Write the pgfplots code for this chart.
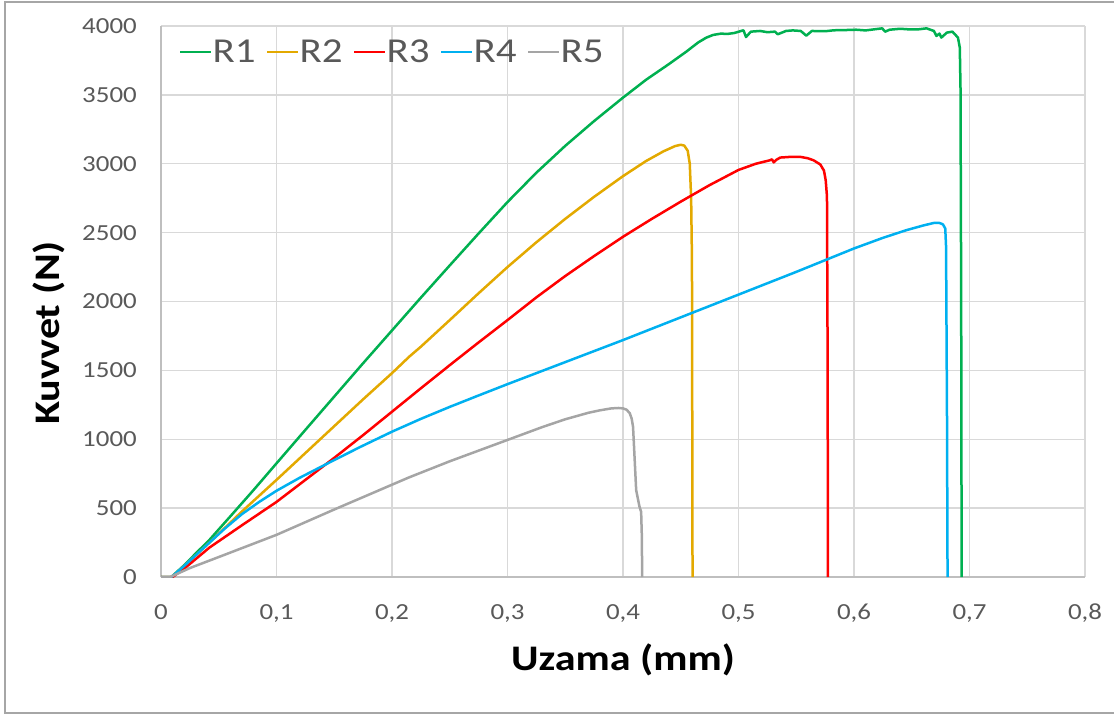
\documentclass[border=0pt]{standalone}
\usepackage{fontspec}
\setmainfont{Carlito}[FakeStretch=1.17]
\usepackage{pgfplots}
\pgfplotsset{compat=1.18}
\definecolor{cRa}{HTML}{00B050}
\definecolor{cRb}{HTML}{E3A900}
\definecolor{cRc}{HTML}{FF0000}
\definecolor{cRd}{HTML}{00B0F0}
\definecolor{cRe}{HTML}{A5A5A5}
\definecolor{gridc}{HTML}{D9D9D9}
\definecolor{axisc}{HTML}{BFBFBF}
\definecolor{txtc}{HTML}{595959}
\definecolor{framec}{HTML}{A6A6A6}
\begin{document}
\begin{tikzpicture}
\useasboundingbox (0,0) rectangle (1114pt,716pt);
\draw[color=framec, line width=1.5pt] (1114pt,3pt) -- (5pt,3pt) -- (5pt,714pt) -- (1114pt,714pt);
\begin{axis}[
  at={(161pt,139pt)}, anchor=south west,
  scale only axis, width=924pt, height=551pt,
  xmin=0, xmax=0.8, ymin=0, ymax=4000,
  xtick={0,0.1,0.2,0.3,0.4,0.5,0.6,0.7,0.8},
  xticklabels={0,{0,1},{0,2},{0,3},{0,4},{0,5},{0,6},{0,7},{0,8}},
  ytick={0,500,1000,1500,2000,2500,3000,3500,4000},
  yticklabels={0,500,1000,1500,2000,2500,3000,3500,4000},
  grid=major,
  major grid style={color=gridc, line width=1.3pt},
  axis lines=left,
  axis line style={-, color=axisc, line width=1.3pt},
  major tick length=0pt,
  tick style={draw=none},
  ticklabel style={font=\fontsize{23}{27}\selectfont, text=txtc, inner sep=0pt},
  xticklabel style={anchor=north, yshift=-27pt},
  yticklabel style={anchor=east, xshift=-24pt},
  xlabel={Uzama (mm)},
  ylabel={Kuvvet (N)},
  xlabel style={font=\bfseries\fontsize{36}{43}\selectfont, at={(rel axis cs:0.5,0)}, anchor=base, yshift=-93pt, inner sep=0pt},
  ylabel style={font=\bfseries\fontsize{36}{43}\selectfont, at={(rel axis cs:0,0.443)}, anchor=center, yshift=112.5pt, inner sep=0pt},
  legend columns=5,
  legend image code/.code={\draw[#1] (0pt,0pt) -- (31pt,0pt);},
  legend style={at={(0.0195,0.9528)}, anchor=west, draw=none, fill=none,
    inner sep=0pt, font=\fontsize{35}{40}\selectfont, text=txtc,
    nodes={inner sep=0pt},
    /tikz/every even column/.append style={column sep=10.5pt}},
  every axis plot/.append style={line width=2.5pt, line join=round},
]
\addplot[cRa] coordinates {
(0,0) (0.009,0) (0.02,85) (0.03,170) (0.042,270) (0.06,440) (0.08,630) (0.1,825)
(0.125,1068) (0.15,1310) (0.175,1552) (0.2,1790) (0.225,2028) (0.25,2262) (0.275,2494)
(0.3,2722) (0.325,2935) (0.35,3130) (0.375,3310) (0.4,3480) (0.42,3610) (0.44,3725)
(0.455,3815) (0.465,3880) (0.472,3915) (0.478,3935) (0.485,3945)
(0.4899,3942) (0.4963,3949) (0.5043,3969) (0.5065,3920) (0.5107,3959)
(0.5187,3964) (0.525,3955) (0.5315,3959) (0.534,3940) (0.5411,3964) (0.547,3968) (0.5539,3964)
(0.5587,3930) (0.5635,3964) (0.575,3962) (0.5827,3969) (0.59,3970) (0.602,3973) (0.61,3968)
(0.6244,3983) (0.627,3959) (0.6308,3973) (0.64,3980) (0.6468,3976) (0.655,3975) (0.6628,3983)
(0.6692,3964) (0.6714,3928) (0.674,3945) (0.6756,3916) (0.6804,3952) (0.6852,3959)
(0.69,3916) (0.6916,3843) (0.6922,3554) (0.6928,2000) (0.6932,0)
};
\addlegendentry{R1}
\addplot[cRb] coordinates {
(0,0) (0.009,0) (0.02,80) (0.042,250) (0.07,475) (0.1,705) (0.125,900) (0.15,1095)
(0.175,1290) (0.2,1480) (0.215,1600) (0.225,1672) (0.25,1865) (0.275,2060) (0.3,2250)
(0.325,2430) (0.35,2600) (0.375,2760) (0.4,2910) (0.42,3020) (0.435,3090) (0.445,3128)
(0.45,3138) (0.453,3132) (0.456,3095) (0.4578,3000) (0.459,2750) (0.4597,2300)
(0.46,1000) (0.4602,0)
};
\addlegendentry{R2}
\addplot[cRc] coordinates {
(0,0) (0.01,0) (0.02,60) (0.042,214) (0.07,375) (0.1,545) (0.125,705) (0.15,865)
(0.175,1030) (0.2,1200) (0.225,1370) (0.25,1538) (0.275,1703) (0.3,1865) (0.325,2030)
(0.35,2185) (0.375,2330) (0.4,2470) (0.425,2600) (0.45,2725) (0.475,2845) (0.5,2955)
(0.515,3000) (0.527,3025) (0.529,3032) (0.5305,3010) (0.533,3030) (0.5362,3045)
(0.545,3050) (0.5535,3050) (0.56,3040) (0.565,3025) (0.5708,2995) (0.574,2950)
(0.5755,2880) (0.5766,2763) (0.5772,1500) (0.5774,0)
};
\addlegendentry{R3}
\addplot[cRd] coordinates {
(0,0) (0.009,0) (0.02,80) (0.042,250) (0.055,350) (0.07,456) (0.085,545) (0.1,626)
(0.12,720) (0.146,832) (0.172,942) (0.2,1055) (0.225,1148) (0.25,1235) (0.275,1318)
(0.3,1400) (0.325,1480) (0.35,1560) (0.375,1640) (0.4,1720) (0.45,1885) (0.5,2050)
(0.55,2215) (0.575,2300) (0.6,2385) (0.625,2462) (0.645,2517) (0.66,2552) (0.669,2570)
(0.674,2570) (0.677,2560) (0.679,2530) (0.6797,2400) (0.6805,1200) (0.681,0)
};
\addlegendentry{R4}
\addplot[cRe] coordinates {
(0,0) (0.008,0) (0.025,65) (0.05,145) (0.1,306) (0.15,490) (0.2147,723) (0.25,840)
(0.3,995) (0.33,1088) (0.35,1145) (0.37,1192) (0.38,1210) (0.39,1224) (0.396,1227)
(0.4,1224) (0.403,1215) (0.4058,1190) (0.4075,1150) (0.4087,1090)
(0.41,870) (0.4114,631) (0.4143,510) (0.4157,473) (0.4163,300) (0.4166,0)
};
\addlegendentry{R5}
\end{axis}
\end{tikzpicture}
\end{document}
